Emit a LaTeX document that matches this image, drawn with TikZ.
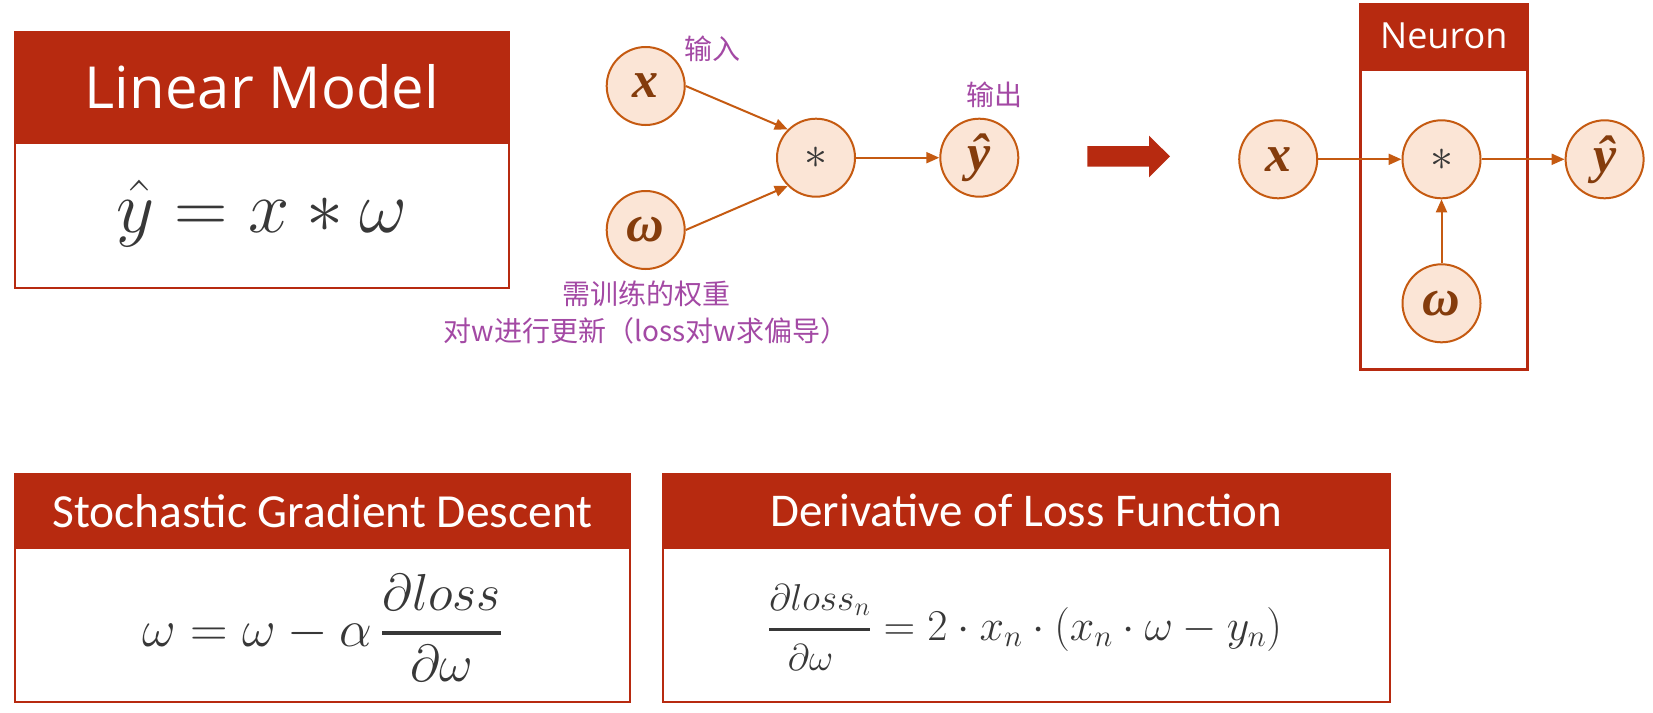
\RequirePackage{fix-cm}
\documentclass[tikz,border=0pt]{standalone}
\usepackage{fontspec}
\usepackage{amsmath}
\usepackage{graphicx}
\usetikzlibrary{arrows.meta}
\newfontfamily\segoe{Open Sans}
\newfontfamily\calib{Carlito}
\newfontfamily\cjk{Noto Sans CJK SC}
\newfontfamily\circfont{Liberation Serif}
\definecolor{hdr}{RGB}{183,42,16}
\definecolor{cfill}{RGB}{251,229,214}
\definecolor{cdraw}{RGB}{197,90,17}
\definecolor{ctext}{RGB}{132,60,12}
\definecolor{purp}{RGB}{163,73,164}
\definecolor{mtext}{RGB}{56,56,56}
\begin{document}
\begin{tikzpicture}[x=1pt,y=-1pt,
  hdrbox/.style={fill=hdr, draw=hdr, line width=2pt, inner sep=0pt, text=white},
  bodybox/.style={draw=hdr, line width=2pt, fill=white, inner sep=0pt},
  neur/.style={circle, fill=cfill, draw=cdraw, line width=2pt, minimum size=78pt, inner sep=0pt, text=ctext, font=\circfont\bfseries\itshape\fontsize{52}{52}\selectfont},
  mult/.style={neur, text=mtext, font=\fontsize{46}{46}\selectfont},
  conn/.style={draw=cdraw, line width=2pt, -{Triangle[length=13pt,width=11pt]}},
  lbl/.style={text=purp, font=\cjk\fontsize{28}{36.5}\selectfont},
  formula/.style={anchor=base, text=mtext, inner sep=0pt}
]
\useasboundingbox (0,0) rectangle (1653,712);

% ---------- Linear Model box ----------
\node[bodybox, minimum width=494.2, minimum height=144.4, anchor=north] (lmb) at (261.9,142.3) {};
\node[hdrbox, minimum width=494.2, minimum height=110.7, font=\segoe\fontsize{58}{58}\selectfont] (lmh) at (261.9,87) {Linear Model};
\node[formula, font=\fontsize{74}{80}\selectfont] (lmf) at (261.9,232) {$\hat{y} = x \ast \omega$};

% ---------- left computational graph ----------
\node[neur] (x1) at (645.7,86) {x};
\node[neur] (w1) at (645.7,230) {ω};
\node[mult] (m1) at (816,157.7) {$\ast$};
\node[neur] (y1) at (979.3,157.7) {ŷ};
\draw[conn] (x1.east) -- (m1.135);
\draw[conn] (w1.east) -- (m1.225);
\draw[conn] (m1) -- (y1);
\node[lbl] (in) at (712,49) {输入};
\node[lbl] (out) at (994.5,95) {输出};
\node[lbl, align=center] (wt) at (646,312.5) {需训练的权重\\对w进行更新（loss对w求偏导）};

% ---------- big arrow ----------
\fill[hdr] (1087.3,146) -- (1149,146) -- (1149,135.7) -- (1170,156.4) -- (1149,177.3) -- (1149,166.7) -- (1087.3,166.7) -- cycle;

% ---------- Neuron ----------
\node[bodybox, line width=3pt, fill=none, minimum width=167.5, minimum height=300.6, anchor=north] (nb) at (1443.75,67.7) {};
\node[hdrbox, line width=3pt, minimum width=167.5, minimum height=63, font=\segoe\fontsize{36}{36}\selectfont] (nh) at (1443.75,36.2) {Neuron};
\node[neur] (x2) at (1278.2,159.3) {x};
\node[mult] (m2) at (1441.5,159.3) {$\ast$};
\node[neur] (y2) at (1604.6,159.3) {ŷ};
\node[neur] (w2) at (1441.5,303.3) {ω};
\draw[conn] (x2) -- (m2);
\draw[conn] (m2) -- (y2);
\draw[conn] (w2) -- (m2);

% ---------- SGD box ----------
\node[bodybox, minimum width=615, minimum height=153.4, anchor=north] (sb) at (322.5,547.3) {};
\node[hdrbox, minimum width=615, minimum height=73, font=\calib\fontsize{47.5}{47.5}\selectfont] (sh) at (322.5,510.8) {Stochastic Gradient Descent};
\node[formula, font=\fontsize{52}{60}\selectfont] (sf) at (322.5,646) {$\omega = \omega - \alpha\,\genfrac{}{}{3.5pt}{0}{\partial loss}{\partial\omega}$};

% ---------- Derivative box ----------
\node[bodybox, minimum width=726.5, minimum height=153.4, anchor=north] (db) at (1026.25,547.3) {};
\node[hdrbox, minimum width=726.5, minimum height=73, font=\calib\fontsize{47}{47}\selectfont] (dh) at (1026.25,510.8) {Derivative of Loss Function};
\node[formula, font=\fontsize{44}{50}\selectfont] (df) at (1025,640) {$\genfrac{}{}{3pt}{0}{\scalebox{0.85}{$\partial loss_n$}}{\scalebox{0.85}{$\partial\omega$}} = 2\cdot x_n\cdot(x_n\cdot\omega - y_n)$};
\end{tikzpicture}
\end{document}
